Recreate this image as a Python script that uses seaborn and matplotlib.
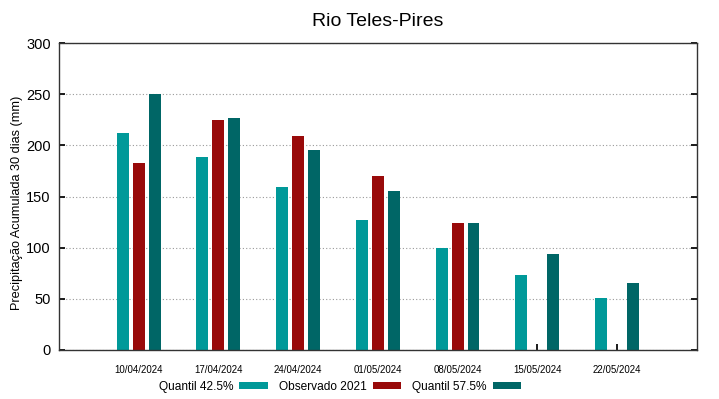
import pandas as pd
import matplotlib.pyplot as plt
import seaborn as sns
from matplotlib.patches import Patch

# --- data ---
dates = ["10/04/2024", "17/04/2024", "24/04/2024", "01/05/2024",
         "08/05/2024", "15/05/2024", "22/05/2024"]
quantil_425 = [212, 189, 159, 127, 100, 73, 51]
observado_2021 = [183, 225, 209, 170, 124, None, None]
quantil_575 = [250, 227, 195, 155, 124, 94, 65]

series_names = ["Quantil 42.5%", "Observado 2021", "Quantil 57.5%"]
colors = ["#009999", "#990a0a", "#006666"]

rows = []
for name, vals in zip(series_names, [quantil_425, observado_2021, quantil_575]):
    for d, v in zip(dates, vals):
        if v is not None:
            rows.append({"data": d, "serie": name, "valor": v})
df = pd.DataFrame(rows)

sns.set_theme(style="white")
plt.rcParams['font.family'] = ['Liberation Sans', 'DejaVu Sans']
plt.rcParams['text.color'] = 'black'
plt.rcParams['axes.labelcolor'] = 'black'

fig = plt.figure(figsize=(7.19, 3.99), dpi=100)
ax = fig.add_axes([0.082, 0.123, 0.887, 0.769])

sns.barplot(data=df, x="data", y="valor", hue="serie", order=dates,
            hue_order=series_names, palette=colors, saturation=1,
            width=0.6, gap=0.25, linewidth=0, errorbar=None,
            legend=False, ax=ax)

ax.set_xlim(-1, 7)
ax.set_ylim(0, 300)
ax.set_yticks(range(0, 301, 50))
ax.yaxis.grid(True, linestyle=(0, (1, 2)), color="#999999", linewidth=0.8)
ax.set_axisbelow(True)
for s in ax.spines.values():
    s.set_color("#333333")
    s.set_linewidth(1.0)

ax.tick_params(axis="y", direction="in", length=4, labelsize=10.5,
               left=True, right=True, colors="black", pad=6)
ax.tick_params(axis="x", direction="in", length=4, labelsize=7,
               bottom=True, top=False, pad=11, colors="black")
ax.set_xlabel("")
ax.set_ylabel("Precipitação Acumulada 30 dias (mm)", fontsize=9.2)
ax.yaxis.set_label_coords(-0.056, 0.48)
ax.set_title("Rio Teles-Pires", fontsize=14, pad=12)

handles = [Patch(facecolor=c, edgecolor="none") for c in colors]
fig.legend(handles, series_names, loc="center", bbox_to_anchor=(0.473, 0.03),
           ncol=3, frameon=False, markerfirst=False, fontsize=8.6,
           handlelength=2.4, handleheight=0.5, columnspacing=0.9,
           handletextpad=0.5)

fig.savefig("out.png", dpi=100)
